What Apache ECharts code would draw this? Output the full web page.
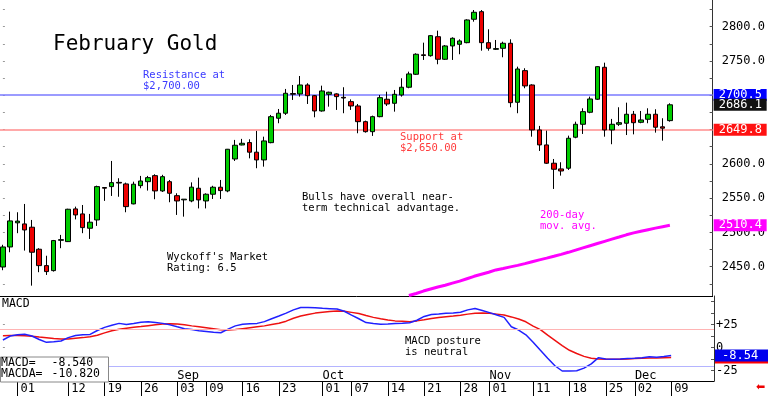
<!DOCTYPE html>
<html><head><meta charset="utf-8">
<script src="https://cdn.jsdelivr.net/npm/echarts@6/dist/echarts.min.js"></script>
<style>html,body{margin:0;padding:0;background:#fff}#c{width:768px;height:396px}</style>
</head><body><div id="c"></div>
<script>
// ---- data ----
const dayTickIdx    = [2, 9, 14, 19, 24, 28, 33, 38, 44, 48, 53, 58, 63, 67, 73, 78, 83, 87, 92];
const dayTickLabels = ['01','12','19','26','03','09','16','23','01','07','14','21','28','01','11','18','25','02','09'];
const monthFirstIdx = [24, 44, 67, 87];
const monthLabels   = ['Sep','Oct','Nov','Dec'];

const opens = [2449.6,2478.8,2514.0,2512.4,2507.6,2475.5,2451.6,2444.3,2488.5,2486.6,
  2534.3,2527.0,2506.1,2518.2,2565.5,2566.8,2573.0,2570.7,2541.6,2568.2,
  2574.0,2582.8,2560.5,2574.0,2553.6,2547.5,2545.9,2564.4,2545.9,2555.7,
  2565.9,2560.5,2607.1,2627.5,2631.0,2617.0,2605.7,2630.9,2666.5,2673.8,
  2702.5,2701.9,2715.0,2699.4,2677.1,2701.4,2702.0,2697.0,2690.7,2684.4,
  2661.5,2646.9,2668.8,2694.2,2688.3,2700.4,2711.7,2730.6,2759.0,2757.7,
  2785.4,2752.5,2771.9,2774.3,2776.7,2810.8,2821.9,2776.7,2767.0,2768.5,
  2775.8,2689.8,2735.9,2715.0,2649.4,2627.6,2600.9,2592.6,2593.6,2638.8,
  2657.7,2675.2,2694.2,2740.8,2649.4,2657.7,2659.2,2672.3,2660.6,2665.0,
  2672.3,2654.0,2663.0];
const closes = [2478.8,2516.8,2516.5,2503.6,2471.1,2451.6,2442.9,2488.1,2489.5,2533.8,
  2525.5,2507.0,2514.9,2566.8,2564.5,2572.6,2572.0,2537.6,2570.3,2575.0,
  2579.9,2560.5,2581.3,2557.1,2545.9,2548.5,2566.0,2547.4,2555.7,2565.9,
  2561.0,2621.3,2627.1,2630.0,2617.0,2605.7,2633.4,2668.8,2673.8,2702.9,
  2701.5,2715.0,2699.4,2677.1,2706.3,2704.4,2698.0,2696.0,2684.4,2661.5,
  2646.9,2668.8,2696.5,2687.3,2701.4,2711.7,2731.1,2759.8,2758.0,2786.9,
  2752.5,2771.9,2783.1,2779.2,2809.8,2821.0,2776.7,2768.5,2768.0,2775.8,
  2689.2,2738.3,2713.6,2649.4,2627.6,2600.9,2592.1,2589.6,2637.3,2657.7,
  2676.1,2694.6,2741.7,2649.4,2657.7,2660.0,2672.3,2660.0,2664.0,2672.3,
  2653.4,2652.0,2686.1];
const lows = [2444.9,2471.1,2498.9,2473.5,2422.4,2442.0,2438.0,2442.9,2477.0,2486.0,
  2519.0,2498.9,2490.5,2509.5,2546.0,2553.2,2552.0,2529.4,2541.0,2564.4,
  2561.0,2548.4,2559.0,2544.0,2525.5,2523.0,2544.0,2535.0,2535.0,2548.8,
  2548.8,2558.6,2604.2,2627.0,2608.0,2593.6,2595.9,2630.0,2659.2,2671.3,
  2693.2,2698.0,2687.3,2667.9,2676.1,2683.4,2678.6,2673.8,2678.6,2644.6,
  2645.5,2640.7,2667.9,2684.4,2676.1,2698.0,2710.2,2729.6,2751.5,2756.3,
  2745.2,2751.5,2751.5,2759.8,2775.8,2807.3,2765.0,2765.0,2766.0,2755.4,
  2682.5,2673.8,2710.2,2639.6,2618.8,2599.9,2563.4,2582.8,2591.1,2637.3,
  2643.6,2673.8,2693.2,2639.6,2628.6,2655.3,2642.0,2643.0,2659.2,2659.2,
  2645.5,2633.8,2661.5];
const highs = [2482.0,2530.3,2529.4,2541.5,2518.2,2477.0,2466.0,2489.0,2496.4,2534.5,
  2537.6,2540.0,2527.0,2568.2,2565.5,2604.2,2579.0,2572.6,2574.0,2582.4,
  2582.4,2584.8,2584.0,2576.5,2557.1,2548.5,2573.0,2579.9,2557.0,2568.0,
  2576.5,2621.7,2634.9,2636.4,2635.8,2648.0,2639.6,2671.3,2680.0,2709.2,
  2715.0,2728.1,2717.5,2700.4,2714.0,2705.2,2702.9,2711.7,2694.0,2687.3,
  2663.0,2670.3,2700.4,2705.2,2707.7,2724.8,2734.4,2761.2,2776.7,2787.9,
  2794.2,2773.3,2784.5,2781.6,2810.8,2824.3,2824.3,2796.2,2780.6,2778.1,
  2781.6,2741.7,2739.4,2716.0,2655.3,2648.4,2607.1,2602.3,2641.1,2661.5,
  2681.0,2698.0,2742.5,2747.5,2665.5,2682.5,2689.2,2677.1,2677.1,2681.0,
  2679.6,2666.5,2688.3];

const maStartIdx = 56;
const ma200 = [2408.0,2411.0,2414.5,2417.5,2420.5,2423.0,2426.0,2429.0,2432.5,
  2436.0,2439.0,2442.0,2445.3,2447.5,2449.8,2452.0,2454.5,2457.3,2460.0,
  2462.5,2465.2,2468.0,2471.0,2474.2,2477.4,2480.6,2483.8,2487.0,2490.2,
  2493.3,2496.5,2499.3,2501.7,2504.0,2506.3,2508.4,2510.4];

const macd = [8.1,12.4,13.8,14.3,12.4,8.7,5.6,6.2,7.0,10.7,
  13.0,13.8,14.2,18.4,21.8,24.0,26.1,25.0,26.0,27.2,
  27.9,27.0,26.1,24.5,22.4,20.4,19.4,18.1,17.4,16.6,
  16.0,19.9,23.4,25.2,25.8,26.1,28.0,31.1,34.1,37.2,
  40.7,43.3,43.3,42.9,42.4,42.0,41.6,39.2,35.1,31.1,
  27.0,26.0,25.2,25.5,26.0,26.2,26.8,29.5,33.6,35.8,
  36.3,37.0,37.4,38.2,40.7,42.2,40.0,37.7,35.1,32.6,
  22.4,18.9,13.8,5.7,-3.0,-11.6,-19.7,-25.4,-25.4,-25.1,
  -22.3,-17.7,-11.0,-12.4,-12.8,-12.4,-11.9,-11.6,-11.0,-9.9,
  -10.6,-9.6,-8.54];
const macdSignal = [12.8,13.0,13.1,12.8,12.3,11.3,10.5,9.7,9.2,9.3,
  10.1,10.7,11.7,13.3,15.8,18.2,19.7,20.9,21.9,22.7,
  23.6,24.5,25.3,25.7,25.3,24.5,23.4,22.4,21.4,20.4,
  19.1,18.9,19.4,20.4,21.4,22.4,23.4,24.8,26.2,28.5,
  31.6,34.0,35.6,37.2,38.2,39.0,39.4,39.2,38.0,36.7,
  34.6,32.6,31.1,29.8,28.8,28.5,27.9,28.8,30.0,31.3,
  32.4,33.3,34.0,34.9,36.1,37.0,37.2,37.0,36.1,35.1,
  33.1,30.8,27.8,23.2,19.4,13.3,7.7,2.1,-3.0,-6.5,
  -9.6,-11.6,-12.4,-12.8,-12.8,-12.6,-12.3,-12.0,-11.7,-11.4,
  -11.2,-11.0,-10.82];

const priceLabelTicks = [2450, 2500, 2550, 2600, 2650, 2700, 2750, 2800];
const priceMinorTicks = [2425,2450,2475,2500,2525,2550,2575,2600,2625,2650,2675,2700,2725,2750,2775,2800,2825];
const macdLabelTicks = [-25, 0, 25];
const macdMinorTicks = [-25, -12.5, 0, 12.5, 25, 37.5, 50];

const resistance = 2700.5, support = 2649.8, lastClose = 2686.1, maLast = 2510.4;
const macdLast = -8.54, macdaLast = -10.82, obLevel = 20, osLevel = -20;

// ---- build ----
const FONT = 'DejaVu Sans Mono';
const candleData = opens.map((o, i) => [i, o, closes[i], lows[i], highs[i]]);
const maData = ma200.map((v, k) => [maStartIdx + k, v]);
const macdData = macd.map((v, i) => [i, v]);
const sigData = macdSignal.map((v, i) => [i, v]);
const dayLabelMap = {}; dayTickIdx.forEach((d, k) => dayLabelMap[d] = dayTickLabels[k]);
const monthPos = monthFirstIdx.map(d => d + 1.5);
const monthMap = {}; monthPos.forEach((p, k) => monthMap[p] = monthLabels[k]);

const XMIN = -0.4, XMAX = 97.9;
const HIDDEN_LINE = { color: 'rgba(255,255,255,0)', width: 1, type: 'solid' };
function tag(value, bg, text, lineStyle, padLeft) {
  return {
    yAxis: value,
    lineStyle: lineStyle || HIDDEN_LINE,
    label: { show: true, position: 'end', distance: 1, formatter: text,
      color: '#fff', backgroundColor: bg, padding: [1, 3, 0, padLeft || 5], width: 53 - 3 - (padLeft || 5),
      align: 'left', fontFamily: FONT, fontSize: 12, lineHeight: 11 }
  };
}

const option = {
  animation: false,
  backgroundColor: '#fff',
  grid: [
    { left: 0, right: 54, top: 0, height: 296 },
    { left: 0, right: 54, top: 296, height: 85 }
  ],
  xAxis: [
    { gridIndex: 0, type: 'value', min: XMIN, max: XMAX, position: 'bottom',
      axisLine: { show: true, onZero: false, lineStyle: { color: '#000', width: 1 } },
      axisTick: { show: false }, axisLabel: { show: false }, splitLine: { show: false } },
    { gridIndex: 1, type: 'value', min: XMIN, max: XMAX, position: 'bottom',
      axisLine: { show: true, onZero: false, lineStyle: { color: '#000', width: 1 } },
      axisTick: { show: true, inside: false, length: 15, customValues: dayTickIdx, lineStyle: { color: '#000' } },
      axisLabel: { show: true, customValues: dayTickIdx, formatter: v => dayLabelMap[v] || '',
        align: 'left', margin: 2, padding: [0, 0, 0, 3], color: '#000', fontFamily: FONT, fontSize: 12 },
      splitLine: { show: false } },
    { gridIndex: 1, type: 'value', min: XMIN, max: XMAX, position: 'bottom',
      axisLine: { show: false, onZero: false }, axisTick: { show: false },
      axisLabel: { show: true, inside: true, customValues: monthPos, formatter: v => monthMap[v] || '',
        margin: -1, color: '#000', fontFamily: FONT, fontSize: 12 },
      splitLine: { show: false } }
  ],
  yAxis: [
    { gridIndex: 0, type: 'value', position: 'right', min: 2407.3, max: 2838.9, scale: true,
      axisLine: { show: true, onZero: false, lineStyle: { color: '#333' } },
      axisTick: { show: true, inside: true, length: 3, customValues: priceMinorTicks, lineStyle: { color: '#555' } },
      axisLabel: { show: true, customValues: priceLabelTicks, formatter: v => v.toFixed(1), margin: 9,
        color: '#000', fontFamily: FONT, fontSize: 12 },
      splitLine: { show: false } },
    { gridIndex: 0, type: 'value', position: 'left', min: 2407.3, max: 2838.9, scale: true,
      axisLine: { show: false }, axisLabel: { show: false },
      axisTick: { show: true, inside: true, length: 2, customValues: priceMinorTicks, lineStyle: { color: '#999' } },
      splitLine: { show: false } },
    { gridIndex: 1, type: 'value', position: 'right', min: -36.2, max: 55.7, scale: true,
      axisLine: { show: true, onZero: false, lineStyle: { color: '#333' } },
      axisTick: { show: true, inside: true, length: 3, customValues: macdMinorTicks, lineStyle: { color: '#555' } },
      axisLabel: { show: true, customValues: macdLabelTicks, formatter: v => (v > 0 ? '+' + v : String(v)), margin: 2,
        color: '#000', fontFamily: FONT, fontSize: 12 },
      splitLine: { show: false } },
    { gridIndex: 1, type: 'value', position: 'left', min: -36.2, max: 55.7, scale: true,
      axisLine: { show: false }, axisLabel: { show: false },
      axisTick: { show: true, inside: true, length: 2, customValues: [0, 25], lineStyle: { color: '#999' } },
      splitLine: { show: false } }
  ],
  series: [
    { type: 'candlestick', name: 'Gold', xAxisIndex: 0, yAxisIndex: 0,
      data: candleData, encode: { x: 0, y: [1, 2, 3, 4] }, barWidth: 5,
      itemStyle: { color: '#00cc00', color0: '#ee0000', borderColor: '#000', borderColor0: '#000', borderWidth: 1 },
      markLine: { silent: true, symbol: ['none', 'none'], animation: false, z: 1,
        data: [
          tag(support, '#ff1111', support.toFixed(1), { color: '#ff8c8c', width: 1.5, type: 'solid' }),
          tag(resistance, '#0000ff', resistance.toFixed(1), { color: '#7a7aff', width: 1.5, type: 'solid' }),
          tag(lastClose, '#111111', lastClose.toFixed(1))
        ] } },
    { type: 'line', name: '200-day', xAxisIndex: 0, yAxisIndex: 0, data: maData,
      showSymbol: false, symbol: 'none', lineStyle: { color: '#ff00ff', width: 3 }, clip: true,
      markLine: { silent: true, symbol: ['none', 'none'], animation: false,
        data: [ tag(maLast, '#ff00ff', maLast.toFixed(1)) ] } },
    { type: 'line', name: 'MACDA', xAxisIndex: 1, yAxisIndex: 2, data: sigData,
      showSymbol: false, symbol: 'none', lineStyle: { color: '#ee1111', width: 1.5 },
      markLine: { silent: true, symbol: ['none', 'none'], animation: false,
        data: [
          { yAxis: obLevel, lineStyle: { color: '#ffb4b4', width: 1, type: 'solid' }, label: { show: false } },
          { yAxis: osLevel, lineStyle: { color: '#b4b4ff', width: 1, type: 'solid' }, label: { show: false } },
          tag(macdaLast, '#ff0000', macdaLast.toFixed(2), null, 6)
        ] } },
    { type: 'line', name: 'MACD', xAxisIndex: 1, yAxisIndex: 2, data: macdData,
      showSymbol: false, symbol: 'none', lineStyle: { color: '#2020ff', width: 1.5 },
      markLine: { silent: true, symbol: ['none', 'none'], animation: false,
        data: [ tag(macdLast, '#0000ee', macdLast.toFixed(2), null, 7) ] } }
  ],
  graphic: [
    { type: 'text', left: 53, top: 34, style: { text: 'February Gold', fill: '#000', fontFamily: FONT, fontSize: 21 } },
    { type: 'text', left: 143, top: 70, style: { text: 'Resistance at\n$2,700.00', fill: '#3a3aff', fontFamily: FONT, fontSize: 10.5, lineHeight: 10.5 } },
    { type: 'text', left: 400, top: 132, style: { text: 'Support at\n$2,650.00', fill: '#ff3a3a', fontFamily: FONT, fontSize: 10.5, lineHeight: 10.5 } },
    { type: 'text', left: 302, top: 192, style: { text: 'Bulls have overall near-\nterm technical advantage.', fill: '#000', fontFamily: FONT, fontSize: 10.5, lineHeight: 10.5 } },
    { type: 'text', left: 167, top: 252, style: { text: "Wyckoff's Market\nRating: 6.5", fill: '#000', fontFamily: FONT, fontSize: 10.5, lineHeight: 10.5 } },
    { type: 'text', left: 540, top: 210, style: { text: '200-day\nmov. avg.', fill: '#ff00ff', fontFamily: FONT, fontSize: 10.5, lineHeight: 10.5 } },
    { type: 'text', left: 405, top: 336, style: { text: 'MACD posture\nis neutral', fill: '#000', fontFamily: FONT, fontSize: 10.5, lineHeight: 10.5 } },
    { type: 'text', left: 2, top: 298, style: { text: 'MACD', fill: '#000', fontFamily: FONT, fontSize: 11.5 } },
    { type: 'rect', left: 0, top: 356.5, shape: { width: 108, height: 25 }, style: { fill: '#fff', stroke: '#888', lineWidth: 1 }, z: 50 },
    { type: 'text', left: 1, top: 357, z: 51, style: { text: 'MACD=\nMACDA=', fill: '#000', fontFamily: FONT, fontSize: 11.5, lineHeight: 11.5 } },
    { type: 'text', right: 668, top: 357, z: 51, style: { text: macdLast.toFixed(3) + '\n' + macdaLast.toFixed(3), fill: '#000', fontFamily: FONT, fontSize: 11.5, lineHeight: 11.5, align: 'right' } },
    { type: 'text', left: 756, top: 382, style: { text: '\u2B05', fill: '#ee0000', fontFamily: 'DejaVu Sans', fontSize: 11 } }
  ]
};
const chart = echarts.init(document.getElementById('c'), null, { renderer: 'canvas' });
chart.setOption(option);
</script>
</body></html>
